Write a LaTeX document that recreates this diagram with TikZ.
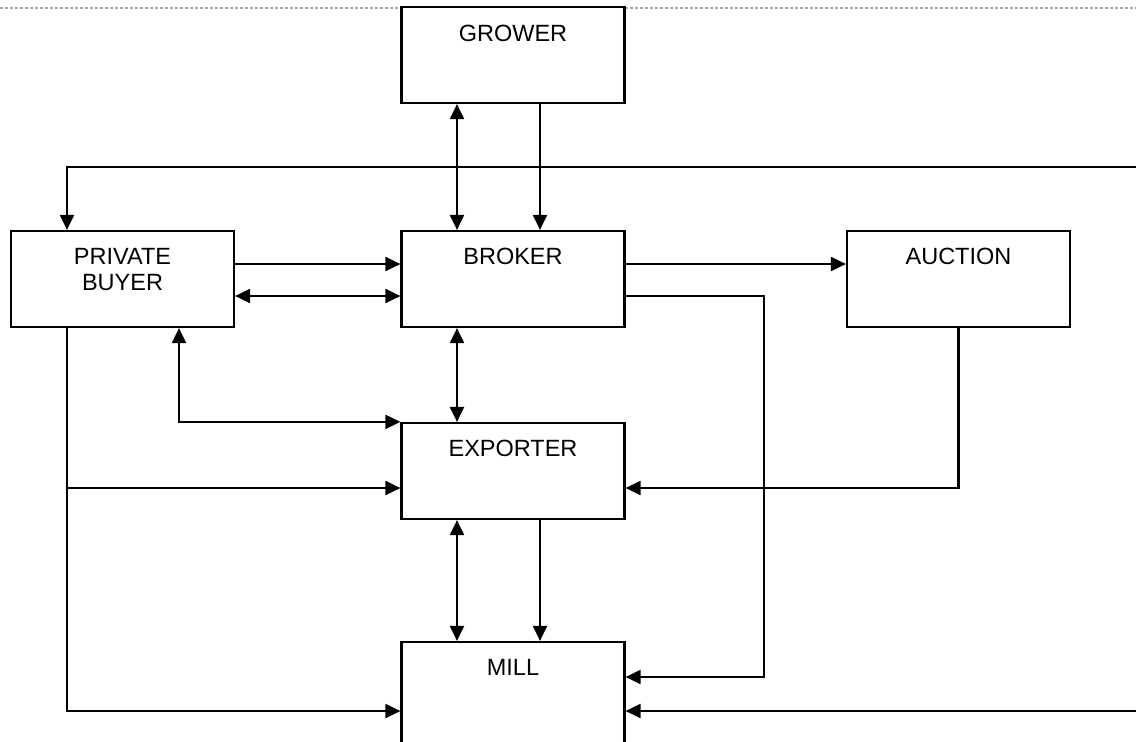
\documentclass[tikz,border=0pt]{standalone}
\usepackage{fontspec}
\setmainfont{Liberation Sans}
\usetikzlibrary{arrows.meta}

\begin{document}
\begin{tikzpicture}[x=1pt,y=-1pt]
\tikzset{boxnode/.style = {draw=black, fill=white, line width=2.2pt, minimum width=223pt, minimum height=96pt, inner sep=0pt}}
\tikzset{boxtext/.style = {anchor=north, inner sep=0pt, yshift=-18pt, align=center, font=\fontsize{23.5}{26}\selectfont}}
\tikzset{arr/.style = {line width=2.1pt, -{Triangle[length=15pt,width=14pt]}}}
\tikzset{dblarr/.style = {line width=2.1pt, {Triangle[length=15pt,width=14pt]}-{Triangle[length=15pt,width=14pt]}}}
\clip (0,0) rectangle (1136,742);

\draw[gray!70, line width=2pt, dash pattern=on 3pt off 2pt] (0,8)--(1136,8);

    \node[boxnode, label={[boxtext, yshift=-1pt]north:GROWER}] (grower) at (513,55) {};
    \node[boxnode, label={[boxtext]north:PRIVATE\\BUYER}] (buyer) at (122.5,279) {};
    \node[boxnode, label={[boxtext]north:BROKER}] (broker) at (513,279) {};
    \node[boxnode, label={[boxtext]north:AUCTION}] (auction) at (958.5,279) {};
    \node[boxnode, label={[boxtext]north:EXPORTER}] (exporter) at (513,471) {};
    \node[boxnode, minimum height=138pt, label={[boxtext]north:MILL}] (mill) at (513,711) {};

    \coordinate (rtop) at (1160,167);
    \coordinate (rbot) at (1160,711);
    \coordinate (bl) at ([xshift=-55.5pt]buyer.south);
    \coordinate (bt) at ([xshift=-55.5pt]buyer.north);
    \coordinate (exl) at ([yshift=-17pt]exporter.west);

% grower - broker
\draw[dblarr] ([xshift=-56pt]grower.south) -- ([xshift=-56pt]broker.north);
\draw[arr] ([xshift=27pt]grower.south) -- ([xshift=27pt]broker.north);

% line from the right into private buyer
\draw[arr] (rtop) -| (bt);

% private buyer - broker - auction
\draw[arr] ([yshift=15pt]buyer.east) -- ([yshift=15pt]broker.west);
\draw[dblarr] ([yshift=-17pt]buyer.east) -- ([yshift=-17pt]broker.west);
\draw[arr] ([yshift=15pt]broker.east) -- ([yshift=15pt]auction.west);
\draw[arr] ([yshift=-17pt]broker.east) -- ++(138,0) |- ([yshift=34pt]mill.east);

% exporter
\draw[dblarr] ([xshift=-56pt]broker.south) -- ([xshift=-56pt]exporter.north);
\draw[dblarr] ([xshift=56.5pt]buyer.south) |- (exporter.north west);
\draw[arr] (bl |- exl) -- (exl);
\draw[arr] (auction.south) |- ([yshift=-17pt]exporter.east);

% mill
\draw[arr] (bl) |- (mill.west);
\draw[dblarr] ([xshift=-56pt]exporter.south) -- ([xshift=-56pt]mill.north);
\draw[arr] ([xshift=27pt]exporter.south) -- ([xshift=27pt]mill.north);
\draw[arr] (rbot) -- (mill.east);

\end{tikzpicture}
\end{document}
